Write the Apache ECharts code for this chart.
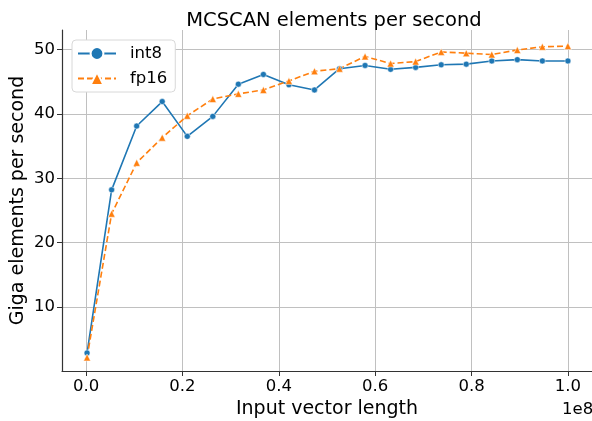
<!DOCTYPE html>
<html>
<head>
<meta charset="utf-8">
<script src="https://cdn.jsdelivr.net/npm/echarts@6/dist/echarts.min.js"></script>
<style>
  html, body { margin: 0; padding: 0; background: #fff; }
  #chart { width: 592px; height: 421px; }
</style>
</head>
<body>
<div id="chart"></div>
<script>
// input vector lengths (x)
var lengths = [200000, 5300000, 10500000, 15800000, 21000000, 26300000, 31600000, 36800000,
               42100000, 47400000, 52600000, 57900000, 63200000, 68400000, 73700000, 78900000,
               84200000, 89500000, 94700000, 100000000];
// giga elements per second
var int8Vals = [2.9, 28.2, 38.1, 41.9, 36.5, 39.6, 44.6, 46.1, 44.5, 43.7,
                47.0, 47.5, 46.9, 47.2, 47.6, 47.7, 48.2, 48.4, 48.2, 48.2];
var fp16Vals = [2.2, 24.5, 32.4, 36.3, 39.7, 42.3, 43.1, 43.7, 45.1, 46.6,
                47.0, 48.9, 47.8, 48.1, 49.6, 49.4, 49.2, 49.9, 50.4, 50.5];
var xTicks = [0, 20000000, 40000000, 60000000, 80000000, 100000000];
var yTicks = [10, 20, 30, 40, 50];

function pairs(vals) {
    return lengths.map(function (x, i) { return [x, vals[i]]; });
}

var font = 'DejaVu Sans';
var chart = echarts.init(document.getElementById('chart'));
chart.setOption({
    animation: false,
    title: {
        text: 'MCSCAN elements per second',
        left: 329,
        top: 6,
        textAlign: 'center',
        textStyle: { fontFamily: font, fontSize: 19.5, fontWeight: 'normal', color: '#000' }
    },
    legend: {
        orient: 'vertical',
        left: 72,
        top: 40,
        padding: [5, 8, 5, 5],
        itemGap: 8,
        itemWidth: 38,
        itemHeight: 16,
        backgroundColor: '#fff',
        borderColor: '#d8d8d8',
        borderWidth: 1,
        borderRadius: 4,
        textStyle: { fontFamily: font, fontSize: 16.5, color: '#000', padding: [0, 0, 0, 9] },
        data: ['int8', 'fp16']
    },
    grid: { left: 62, right: 0, top: 30, bottom: 50, containLabel: false, outerBoundsMode: 'none' },
    xAxis: {
        type: 'value',
        min: -5000000,
        max: 105000000,
        name: 'Input vector length',
        nameLocation: 'middle',
        nameGap: 28,
        nameTextStyle: { fontFamily: font, fontSize: 19, color: '#000' },
        axisLine: { show: true, onZero: false, lineStyle: { color: '#333', width: 1.2 } },
        axisTick: { show: true, length: 5, customValues: xTicks, lineStyle: { color: '#333' } },
        axisLabel: {
            customValues: xTicks,
            margin: 7,
            fontFamily: font, fontSize: 16.5, color: '#000',
            formatter: function (v) { return (v / 1e8).toFixed(1); }
        },
        splitLine: { show: true, lineStyle: { color: '#c0c0c0', width: 1 } }
    },
    yAxis: {
        type: 'value',
        min: 0.1,
        max: 53,
        name: 'Giga elements per second',
        nameLocation: 'middle',
        nameGap: 34,
        nameMoveOverlap: false,
        nameTextStyle: { fontFamily: font, fontSize: 19, color: '#000' },
        axisLine: { show: true, onZero: false, lineStyle: { color: '#333', width: 1.2 } },
        axisTick: { show: true, length: 5, customValues: yTicks, lineStyle: { color: '#333' } },
        axisLabel: { customValues: yTicks, margin: 7, fontFamily: font, fontSize: 16.5, color: '#000' },
        splitLine: { show: true, lineStyle: { color: '#c0c0c0', width: 1 } }
    },
    graphic: [{
        type: 'text',
        left: 562,
        top: 401,
        style: { text: '1e8', font: '16.5px "DejaVu Sans"', fill: '#000' }
    }],
    series: [
        {
            name: 'int8',
            type: 'line',
            color: '#1f77b4',
            symbol: 'circle',
            symbolSize: 6,
            lineStyle: { width: 1.6 },
            itemStyle: { borderColor: '#fff', borderWidth: 0.5 },
            data: pairs(int8Vals)
        },
        {
            name: 'fp16',
            type: 'line',
            color: '#ff7f0e',
            symbol: 'triangle',
            symbolSize: 7,
            lineStyle: { width: 1.6, type: [6, 3] },
            itemStyle: { borderColor: '#fff', borderWidth: 0.5 },
            data: pairs(fp16Vals)
        }
    ]
});
</script>
</body>
</html>
